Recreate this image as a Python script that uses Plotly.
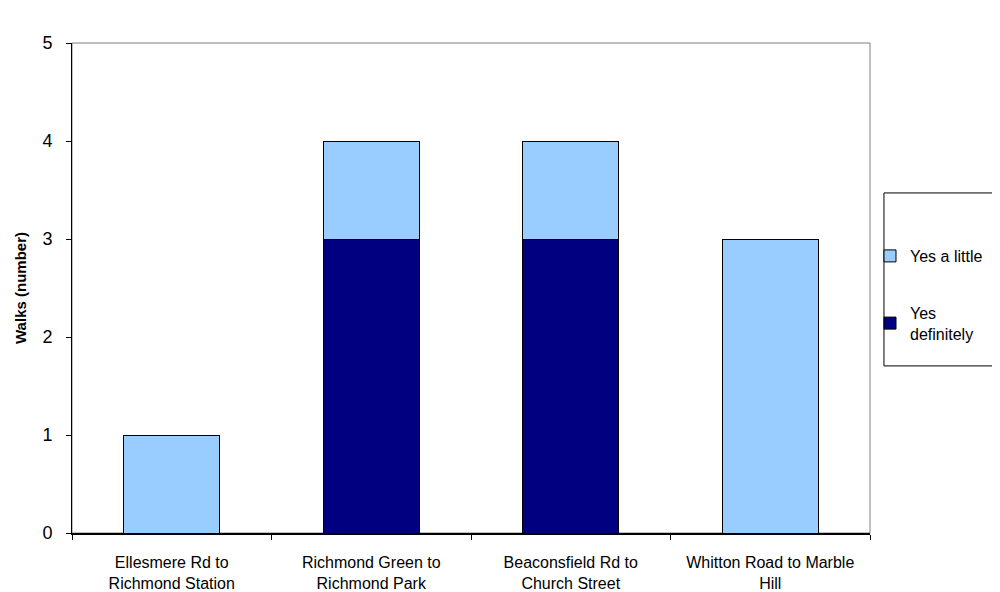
import plotly.graph_objects as go

categories = ["Ellesmere Rd to<br>Richmond Station", "Richmond Green to<br>Richmond Park",
              "Beaconsfield Rd to<br>Church Street", "Whitton Road to Marble<br>Hill"]
yes_definitely = [0, 3, 3, 0]
yes_a_little = [1, 1, 1, 3]

fig = go.Figure()
fig.add_trace(go.Bar(x=categories, y=yes_definitely, name="Yes<br>definitely",
                     marker=dict(color="#000080", line=dict(color="black", width=1)),
                     width=0.48, legendgroup="b", legendrank=2))
fig.add_trace(go.Bar(x=categories, y=yes_a_little, name="Yes a little",
                     marker=dict(color="#99CCFF", line=dict(color="black", width=1)),
                     width=0.48, legendgroup="a", legendrank=1))

L, T, PW, PH = 64, 35, 798, 490
fig.update_layout(
    barmode="stack",
    width=1000, height=592,
    margin=dict(l=L, r=1000 - L - PW, t=T, b=592 - T - PH),
    paper_bgcolor="white", plot_bgcolor="white",
    font=dict(family="Liberation Sans, Arial, sans-serif", size=16, color="black"),
    showlegend=True,
    legend=dict(x=1.0, y=0.6, xanchor="left", yanchor="top",
                traceorder="grouped", tracegroupgap=33,
                borderwidth=0, bgcolor="rgba(0,0,0,0)",
                font=dict(size=16), itemwidth=30),
    shapes=[dict(type="rect", xref="paper", yref="paper", x0=0, y0=0, x1=1, y1=1,
                 line=dict(color="#808080", width=1), layer="below"),
            dict(type="rect", xref="paper", yref="paper", x0=1.0175, y0=0.341, x1=1.2, y1=0.694,
                 line=dict(color="black", width=1), fillcolor="rgba(0,0,0,0)")],
)
fig.update_xaxes(showline=True, linecolor="black", linewidth=2, ticks="outside",
                 tickson="boundaries", ticklen=5, tickcolor="black", automargin=False,
                 tickfont=dict(size=16), showgrid=False, ticklabelstandoff=14)
fig.update_yaxes(range=[0, 5], dtick=1, showline=True, linecolor="black", linewidth=1,
                 ticks="outside", ticklen=5, tickcolor="black", showgrid=False,
                 automargin=False,
                 tickfont=dict(size=18), zeroline=False, ticklabelstandoff=10,
                 title=dict(text="<b>Walks (number)</b>", font=dict(size=15), standoff=12))

fig.write_html("out.html")
